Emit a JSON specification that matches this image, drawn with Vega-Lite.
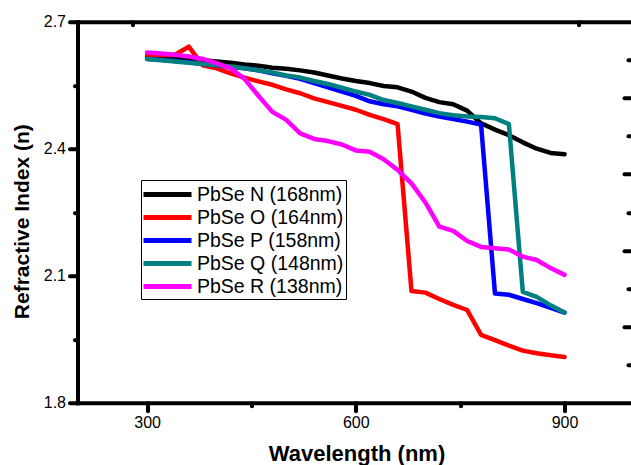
{
  "$schema": "https://vega.github.io/schema/vega-lite/v6.json",
  "width": 553.5,
  "height": 381,
  "autosize": "none",
  "padding": {"left": 77.5, "top": 21.7, "right": 0, "bottom": 62.3},
  "background": "white",
  "config": {"view": {"stroke": null}, "font": "Liberation Sans", "axis": {"grid": false}},
  "data": {"values": [
    {"wl": 300, "PbSe N (168nm)": 2.617, "PbSe O (164nm)": 2.620, "PbSe P (158nm)": 2.612, "PbSe Q (148nm)": 2.612, "PbSe R (138nm)": 2.627},
    {"wl": 320, "PbSe N (168nm)": 2.614, "PbSe O (164nm)": 2.621, "PbSe P (158nm)": 2.610, "PbSe Q (148nm)": 2.609, "PbSe R (138nm)": 2.625},
    {"wl": 340, "PbSe N (168nm)": 2.612, "PbSe O (164nm)": 2.622, "PbSe P (158nm)": 2.607, "PbSe Q (148nm)": 2.606, "PbSe R (138nm)": 2.622},
    {"wl": 360, "PbSe N (168nm)": 2.610, "PbSe O (164nm)": 2.641, "PbSe P (158nm)": 2.604, "PbSe Q (148nm)": 2.603, "PbSe R (138nm)": 2.618},
    {"wl": 380, "PbSe N (168nm)": 2.609, "PbSe O (164nm)": 2.597, "PbSe P (158nm)": 2.600, "PbSe Q (148nm)": 2.600, "PbSe R (138nm)": 2.612},
    {"wl": 400, "PbSe N (168nm)": 2.606, "PbSe O (164nm)": 2.590, "PbSe P (158nm)": 2.597, "PbSe Q (148nm)": 2.597, "PbSe R (138nm)": 2.602},
    {"wl": 420, "PbSe N (168nm)": 2.603, "PbSe O (164nm)": 2.578, "PbSe P (158nm)": 2.593, "PbSe Q (148nm)": 2.594, "PbSe R (138nm)": 2.590},
    {"wl": 440, "PbSe N (168nm)": 2.599, "PbSe O (164nm)": 2.568, "PbSe P (158nm)": 2.590, "PbSe Q (148nm)": 2.590, "PbSe R (138nm)": 2.565},
    {"wl": 460, "PbSe N (168nm)": 2.596, "PbSe O (164nm)": 2.559, "PbSe P (158nm)": 2.585, "PbSe Q (148nm)": 2.585, "PbSe R (138nm)": 2.525},
    {"wl": 480, "PbSe N (168nm)": 2.591, "PbSe O (164nm)": 2.551, "PbSe P (158nm)": 2.578, "PbSe Q (148nm)": 2.580, "PbSe R (138nm)": 2.487},
    {"wl": 500, "PbSe N (168nm)": 2.589, "PbSe O (164nm)": 2.540, "PbSe P (158nm)": 2.572, "PbSe Q (148nm)": 2.573, "PbSe R (138nm)": 2.468},
    {"wl": 520, "PbSe N (168nm)": 2.585, "PbSe O (164nm)": 2.531, "PbSe P (158nm)": 2.565, "PbSe Q (148nm)": 2.568, "PbSe R (138nm)": 2.436},
    {"wl": 540, "PbSe N (168nm)": 2.580, "PbSe O (164nm)": 2.519, "PbSe P (158nm)": 2.555, "PbSe Q (148nm)": 2.560, "PbSe R (138nm)": 2.423},
    {"wl": 560, "PbSe N (168nm)": 2.573, "PbSe O (164nm)": 2.510, "PbSe P (158nm)": 2.545, "PbSe Q (148nm)": 2.553, "PbSe R (138nm)": 2.418},
    {"wl": 580, "PbSe N (168nm)": 2.566, "PbSe O (164nm)": 2.501, "PbSe P (158nm)": 2.535, "PbSe Q (148nm)": 2.544, "PbSe R (138nm)": 2.410},
    {"wl": 600, "PbSe N (168nm)": 2.560, "PbSe O (164nm)": 2.492, "PbSe P (158nm)": 2.525, "PbSe Q (148nm)": 2.535, "PbSe R (138nm)": 2.396},
    {"wl": 620, "PbSe N (168nm)": 2.555, "PbSe O (164nm)": 2.480, "PbSe P (158nm)": 2.512, "PbSe Q (148nm)": 2.527, "PbSe R (138nm)": 2.393},
    {"wl": 640, "PbSe N (168nm)": 2.548, "PbSe O (164nm)": 2.470, "PbSe P (158nm)": 2.505, "PbSe Q (148nm)": 2.515, "PbSe R (138nm)": 2.375},
    {"wl": 660, "PbSe N (168nm)": 2.545, "PbSe O (164nm)": 2.458, "PbSe P (158nm)": 2.500, "PbSe Q (148nm)": 2.508, "PbSe R (138nm)": 2.350},
    {"wl": 680, "PbSe N (168nm)": 2.535, "PbSe O (164nm)": 2.064, "PbSe P (158nm)": 2.492, "PbSe Q (148nm)": 2.500, "PbSe R (138nm)": 2.318},
    {"wl": 700, "PbSe N (168nm)": 2.520, "PbSe O (164nm)": 2.060, "PbSe P (158nm)": 2.483, "PbSe Q (148nm)": 2.492, "PbSe R (138nm)": 2.273},
    {"wl": 720, "PbSe N (168nm)": 2.510, "PbSe O (164nm)": 2.045, "PbSe P (158nm)": 2.476, "PbSe Q (148nm)": 2.484, "PbSe R (138nm)": 2.216},
    {"wl": 740, "PbSe N (168nm)": 2.505, "PbSe O (164nm)": 2.031, "PbSe P (158nm)": 2.470, "PbSe Q (148nm)": 2.479, "PbSe R (138nm)": 2.206},
    {"wl": 760, "PbSe N (168nm)": 2.490, "PbSe O (164nm)": 2.019, "PbSe P (158nm)": 2.464, "PbSe Q (148nm)": 2.476, "PbSe R (138nm)": 2.182},
    {"wl": 780, "PbSe N (168nm)": 2.460, "PbSe O (164nm)": 1.960, "PbSe P (158nm)": 2.457, "PbSe Q (148nm)": 2.475, "PbSe R (138nm)": 2.168},
    {"wl": 800, "PbSe N (168nm)": 2.445, "PbSe O (164nm)": 1.948, "PbSe P (158nm)": 2.058, "PbSe Q (148nm)": 2.472, "PbSe R (138nm)": 2.165},
    {"wl": 820, "PbSe N (168nm)": 2.432, "PbSe O (164nm)": 1.935, "PbSe P (158nm)": 2.055, "PbSe Q (148nm)": 2.458, "PbSe R (138nm)": 2.162},
    {"wl": 840, "PbSe N (168nm)": 2.415, "PbSe O (164nm)": 1.923, "PbSe P (158nm)": 2.045, "PbSe Q (148nm)": 2.062, "PbSe R (138nm)": 2.145},
    {"wl": 860, "PbSe N (168nm)": 2.400, "PbSe O (164nm)": 1.917, "PbSe P (158nm)": 2.035, "PbSe Q (148nm)": 2.050, "PbSe R (138nm)": 2.137},
    {"wl": 880, "PbSe N (168nm)": 2.390, "PbSe O (164nm)": 1.912, "PbSe P (158nm)": 2.024, "PbSe Q (148nm)": 2.030, "PbSe R (138nm)": 2.118},
    {"wl": 900, "PbSe N (168nm)": 2.387, "PbSe O (164nm)": 1.908, "PbSe P (158nm)": 2.013, "PbSe Q (148nm)": 2.013, "PbSe R (138nm)": 2.102}
  ]},
  "transform": [
    {"fold": ["PbSe N (168nm)", "PbSe O (164nm)", "PbSe P (158nm)", "PbSe Q (148nm)", "PbSe R (138nm)"], "as": ["series", "n"]}
  ],
  "layer": [
    {
      "mark": {"type": "line", "strokeWidth": 4.5, "strokeCap": "round", "strokeJoin": "round"},
      "encoding": {
        "x": {
          "field": "wl", "type": "quantitative",
          "scale": {"domain": [200, 995.5], "nice": false, "zero": false},
          "axis": {
            "orient": "bottom",
            "values": [300, 450, 600, 750, 900],
            "domainColor": "black", "domainWidth": 4, "domainCap": "square",
            "tickColor": "black", "tickWidth": 4, "tickCap": "round",
            "tickSize": {"condition": {"test": "datum.value % 300 === 0", "value": 8}, "value": 3},
            "labelExpr": "datum.value % 300 === 0 ? datum.label : ''",
            "labelFontSize": 16, "labelColor": "black", "labelPadding": 4, "labelFlush": false, "labelOverlap": false,
            "title": "Wavelength (nm)", "titleFontSize": 22, "titleFontWeight": "bold", "titleColor": "black",
            "titleX": 279, "titleY": 58, "titleBaseline": "alphabetic", "titleAlign": "center"
          }
        },
        "y": {
          "field": "n", "type": "quantitative",
          "scale": {"domain": [1.8, 2.7], "nice": false, "zero": false},
          "axis": {
            "orient": "left",
            "values": [1.8, 1.95, 2.1, 2.25, 2.4, 2.55, 2.7],
            "format": ".1f",
            "domainColor": "black", "domainWidth": 4, "domainCap": "square",
            "tickColor": "black", "tickWidth": 4, "tickCap": "round",
            "tickSize": {"condition": {"test": "abs(datum.value*10 - round(datum.value*10)) < 0.001", "value": 8}, "value": 3},
            "labelExpr": "abs(datum.value*10 - round(datum.value*10)) < 0.001 ? datum.label : ''",
            "labelFontSize": 16, "labelColor": "black", "labelPadding": 4, "labelFlush": false, "labelOverlap": false,
            "title": "Refractive Index (n)", "titleFontSize": 21, "titleFontWeight": "bold", "titleColor": "black",
            "titleX": -55.5, "titleY": 199.5, "titleBaseline": "middle", "titleAlign": "center", "titleAngle": -90
          }
        },
        "color": {
          "field": "series", "type": "nominal",
          "scale": {
            "domain": ["PbSe N (168nm)", "PbSe O (164nm)", "PbSe P (158nm)", "PbSe Q (148nm)", "PbSe R (138nm)"],
            "range": ["#000000", "#ff0000", "#0000ff", "#008080", "#ff00ff"]
          },
          "legend": {
            "orient": "none", "legendX": 63.5, "legendY": 158.3,
            "title": null,
            "symbolType": "M-2.4,0H2.4", "symbolSize": 400, "symbolStrokeWidth": 5, "symbolOffset": 12,
            "labelFontSize": 19.5, "labelFont": "Liberation Sans", "labelColor": "black", "labelLimit": 0,
            "labelOffset": 17, "rowPadding": 0, "padding": 2,
            "strokeColor": "black"
          }
        }
      }
    },
    {
      "mark": {"type": "line", "opacity": 0},
      "encoding": {
        "x": {
          "field": "wl", "type": "quantitative",
          "axis": {
            "orient": "top",
            "values": [279.6, 920.2],
            "domainColor": "black", "domainWidth": 4, "domainCap": "square",
            "tickColor": "black", "tickWidth": 4, "tickCap": "round", "tickSize": -3,
            "labels": false, "title": null
          }
        },
        "y": {
          "field": "n", "type": "quantitative",
          "axis": {
            "orient": "right",
            "values": [2.61, 2.52, 2.43, 2.34, 2.25, 2.16, 2.07, 1.98, 1.89],
            "domain": false,
            "tickColor": "black", "tickWidth": 4, "tickCap": "round",
            "tickSize": {"condition": {"test": "round((2.7 - datum.value) / 0.09) % 2 === 0", "value": -7}, "value": -3},
            "labels": false, "title": null
          }
        },
        "detail": {"field": "series"}
      }
    }
  ],
  "resolve": {"axis": {"x": "independent", "y": "independent"}}
}
